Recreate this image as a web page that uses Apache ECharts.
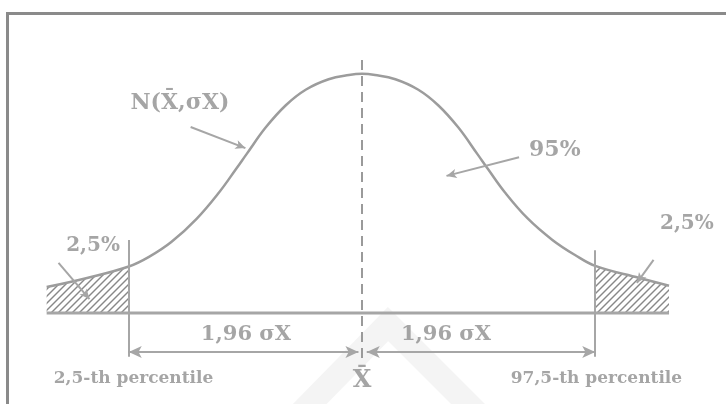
<!DOCTYPE html>
<html>
<head>
<meta charset="utf-8">
<script src="https://cdn.jsdelivr.net/npm/echarts@6/dist/echarts.min.js"></script>
<style>
  html, body { margin: 0; padding: 0; background: #fff; }
  #chart { width: 726px; height: 404px; }
</style>
</head>
<body>
<div id="chart"></div>
<script>
// curve: x in sigma units, y as height above the base line
const curveX = [-2.65, -2.31, -1.96, -1.79, -1.60, -1.39, -1.20, -1.06, -0.97, -0.81, -0.64, -0.47, -0.28, -0.11, 0,
  0.11, 0.28, 0.47, 0.64, 0.81, 0.97, 1.06, 1.20, 1.39, 1.60, 1.79, 1.96, 2.33, 2.58];
const curveY = [0.043, 0.058, 0.077, 0.093, 0.118, 0.156, 0.200, 0.238, 0.263, 0.307, 0.344, 0.370, 0.387, 0.394, 0.396,
  0.394, 0.387, 0.370, 0.344, 0.307, 0.263, 0.238, 0.200, 0.157, 0.121, 0.096, 0.078, 0.058, 0.045];
const cutoffs = [-1.96, 1.96];
const cutoffTops = [0.121, 0.104];
const dimLevel = -0.0646;
const labelTexts = ['N(X\u0304,\u03c3X)', '95%', '2,5%', '2,5%', '1,96 \u03c3X', '1,96 \u03c3X', 'X\u0304', '2,5-th percentile', '97,5-th percentile'];
const labelX = [-1.53, 1.62, -2.26, 2.73, -0.975, 0.706, 0.0, -1.92, 1.97];
const labelY = [0.348, 0.270, 0.111, 0.147, -0.036, -0.036, -0.113, -0.109, -0.108];
const labelSize = [22, 22, 20, 20, 21, 21, 24, 17, 17];
// pointer arrows [fromX, fromY, toX, toY]
const pointers = [
  [-1.44, 0.308, -0.98, 0.273],
  [1.32, 0.258, 0.71, 0.227],
  [-2.55, 0.083, -2.29, 0.023],
  [2.45, 0.088, 2.31, 0.050]
];

const curve = curveX.map((x, i) => [x, curveY[i]]);
const leftTail = curve.filter(p => p[0] <= cutoffs[0] + 1e-9);
const rightTail = curve.filter(p => p[0] >= cutoffs[1] - 1e-9);

// hatch pattern for the tails
const hatch = document.createElement('canvas');
hatch.width = 7; hatch.height = 7;
const hc = hatch.getContext('2d');
hc.strokeStyle = '#888';
hc.lineWidth = 1.4;
[[-7, 7, 7, -7], [0, 7, 7, 0], [0, 14, 14, 0]].forEach(l => {
  hc.beginPath(); hc.moveTo(l[0], l[1]); hc.lineTo(l[2], l[3]); hc.stroke();
});

const lineColor = '#a6a6a6';
const textColor = '#8e8e8e';

const markData = [];
// percentile cut lines
cutoffs.forEach((c, i) => {
  markData.push([{coord: [c, cutoffTops[i]], symbol: 'none'}, {coord: [c, dimLevel - 0.008], symbol: 'none'}]);
});
// mean, dashed
markData.push([{coord: [0, 0.419], symbol: 'none'}, {coord: [0, -0.075], symbol: 'none', lineStyle: {type: [10, 6], color: '#9a9a9a'}}]);
// dimension arrows
markData.push([{coord: [cutoffs[0], dimLevel], symbol: 'arrow'}, {coord: [-0.03, dimLevel], symbol: 'arrow'}]);
markData.push([{coord: [0.04, dimLevel], symbol: 'arrow'}, {coord: [cutoffs[1], dimLevel], symbol: 'arrow'}]);
pointers.forEach(p => {
  markData.push([{coord: [p[0], p[1]], symbol: 'none'}, {coord: [p[2], p[3]], symbol: 'arrow', symbolSize: [7, 10]}]);
});

const chart = echarts.init(document.getElementById('chart'));
chart.setOption({
  animation: false,
  backgroundColor: '#fff',
  grid: {left: 5, width: 714, top: 11, height: 392.6},
  xAxis: {type: 'value', min: -3, max: 3, show: false},
  yAxis: {type: 'value', min: -0.15, max: 0.5, show: false},
  graphic: [
    {type: 'polyline', z: -1, silent: true,
      shape: {points: [[300, 414], [388, 324], [478, 414]]},
      style: {stroke: '#f4f4f4', lineWidth: 24, fill: null}},
    {type: 'line', silent: true, shape: {x1: 6, y1: 13.5, x2: 726, y2: 13.5},
      style: {stroke: '#8a8a8a', lineWidth: 3}},
    {type: 'line', silent: true, shape: {x1: 7.5, y1: 12, x2: 7.5, y2: 404},
      style: {stroke: '#8a8a8a', lineWidth: 3}}
  ],
  series: [
    {
      type: 'line', data: leftTail, smooth: true, symbol: 'none',
      lineStyle: {width: 0},
      areaStyle: {color: {image: hatch, repeat: 'repeat'}, opacity: 1, origin: 0}
    },
    {
      type: 'line', data: rightTail, smooth: true, symbol: 'none',
      lineStyle: {width: 0},
      areaStyle: {color: {image: hatch, repeat: 'repeat'}, opacity: 1, origin: 0}
    },
    {
      type: 'line', data: curve, smooth: 0.4, symbol: 'none',
      lineStyle: {color: '#9c9c9c', width: 2.5}
    },
    {
      type: 'line', data: [[curveX[0], 0], [curveX[curveX.length - 1], 0]], symbol: 'none',
      lineStyle: {color: lineColor, width: 3},
      markLine: {
        silent: true, animation: false,
        symbolSize: [9, 13],
        label: {show: false},
        lineStyle: {color: lineColor, width: 2, type: 'solid'},
        emphasis: {disabled: true},
        data: markData
      }
    },
    {
      type: 'scatter', symbolSize: 0, silent: true,
      data: labelTexts.map((t, i) => ({
        value: [labelX[i], labelY[i]], name: t,
        label: {fontSize: labelSize[i]}
      })),
      label: {
        show: true, position: 'inside', formatter: p => p.name,
        color: textColor, fontFamily: 'DejaVu Serif', fontWeight: 'bold',
        align: 'center', verticalAlign: 'middle'
      }
    }
  ]
});
</script>
</body>
</html>
